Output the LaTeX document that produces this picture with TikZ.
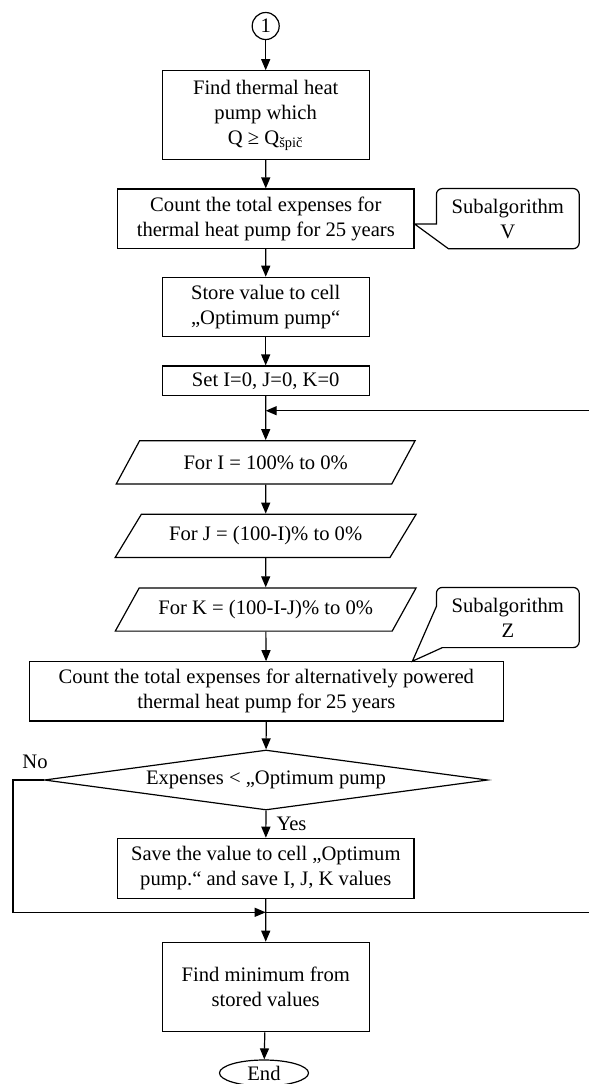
\documentclass[tikz,border=0pt]{standalone}
\usepackage{fontspec}
\setmainfont{Liberation Serif}
\usetikzlibrary{arrows.meta,shapes.geometric}
\tikzset{
  txt/.style={font=\fontsize{10.3}{12.5}\selectfont},
  blk/.style={draw, rectangle, align=center, inner sep=0pt, txt},
  loopbox/.style={draw, trapezium, trapezium left angle=42.6, trapezium right angle=137.4,
    trapezium stretches=true, minimum width=150.5pt, minimum height=21.6pt, align=center, inner sep=0pt, txt},
  note/.style={rectangle, align=center, inner sep=0pt, minimum width=70.8pt, minimum height=29.5pt, txt},
  flow/.style={-{Triangle[length=5.5pt,width=4.5pt]}}
}
\begin{document}
\begin{tikzpicture}[x=0.5pt, y=-0.5pt, line width=0.6pt]
  \useasboundingbox (0,0) rectangle (589,1084);
  \node[draw, circle, minimum size=13.5pt, inner sep=0pt, txt] (c1) at (265.7,26) {1};
  \node[blk, minimum width=103.5pt, minimum height=44.2pt] (b1) at (265.7,115) {Find thermal heat\\pump which\\Q ≥ Q\textsubscript{špič}};
  \node[blk, minimum width=148.2pt, minimum height=29.6pt] (b2) at (265.8,218.6) {Count the total expenses for\\thermal heat pump for 25 years};
  \node[note] (sV) at (507.8,218.6) {Subalgorithm\\V};
  \node[blk, minimum width=103.5pt, minimum height=29.7pt] (b3) at (265.7,307) {Store value to cell\\„Optimum pump“};
  \node[blk, minimum width=103.5pt, minimum height=14.8pt] (b4) at (265.7,380.8) {Set I=0, J=0, K=0};
  \coordinate (loopin) at (265.7,410.7);
  \node[loopbox] (p1) at (265.7,462.3) {For I = 100\% to 0\%};
  \node[loopbox] (p2) at (265.7,535.8) {For J = (100-I)\% to 0\%};
  \node[loopbox] (p3) at (265.7,609.5) {For K = (100-I-J)\% to 0\%};
  \node[note] (sZ) at (507.8,617.5) {Subalgorithm\\Z};
  \node[blk, minimum width=237pt, minimum height=29.6pt] (b5) at (266.3,691.4) {Count the total expenses for alternatively powered\\thermal heat pump for 25 years};
  \node[draw, diamond, aspect=7.4, minimum width=221.7pt, minimum height=30pt, inner sep=0pt, txt] (d1) at (266,780) {Expenses < „Optimum pump};
  \node[blk, minimum width=148.2pt, minimum height=30pt] (b6) at (265.8,868.3) {Save the value to cell „Optimum\\pump.“ and save I, J, K values};
  \coordinate (merge) at (265.7,912.3);
  \node[blk, minimum width=103.5pt, minimum height=44.7pt] (b7) at (265.7,987) {Find minimum from\\stored values};
  \node[draw, ellipse, minimum width=44.5pt, minimum height=13pt, inner sep=0pt, txt] (e1) at (264,1073) {End};
  \node[txt, inner sep=0pt] (no) at (35,762) {No};

  % callout outlines
  \coordinate (tipV) at ([yshift=-2.7pt]b2.east);
  \draw (tipV) -- (sV.west |- tipV) {[rounded corners=3pt] -- (sV.north west) -- (sV.north east) -- (sV.south east)} -- ([xshift=6pt]sV.south west) -- cycle;
  \coordinate (tipZ) at ([xshift=-12pt]b5.north -| sZ.west);
  \draw (tipZ) -- ([yshift=-9.5pt]sZ.north west) {[rounded corners=3pt] -- (sZ.north west) -- (sZ.north east) -- (sZ.south east)} -- ([xshift=3pt]sZ.south west) -- cycle;

  \draw[flow] (c1) -- (b1);
  \draw[flow] (b1) -- (b2);
  \draw[flow] (b2) -- (b3);
  \draw[flow] (b3) -- (b4);
  \draw[flow] (b4) -- (p1);
  \draw[flow] (p1) -- (p2);
  \draw[flow] (p2) -- (p3);
  \draw[flow] (p3) -- (b5);
  \draw[flow] (b5) -- (d1);
  \draw[flow] (d1) -- node[right, txt, inner sep=0pt, xshift=5pt] (yes) {Yes} (b6);
  \draw[flow] (b6) -- (b7);
  \draw[flow] (b7) -- (e1);
  % loops
  \draw[flow] (d1.west) -- ++(-30.7,0) |- (merge);
  \draw[flow] (merge) -- ++(340,0) |- (loopin);
\end{tikzpicture}
\end{document}
